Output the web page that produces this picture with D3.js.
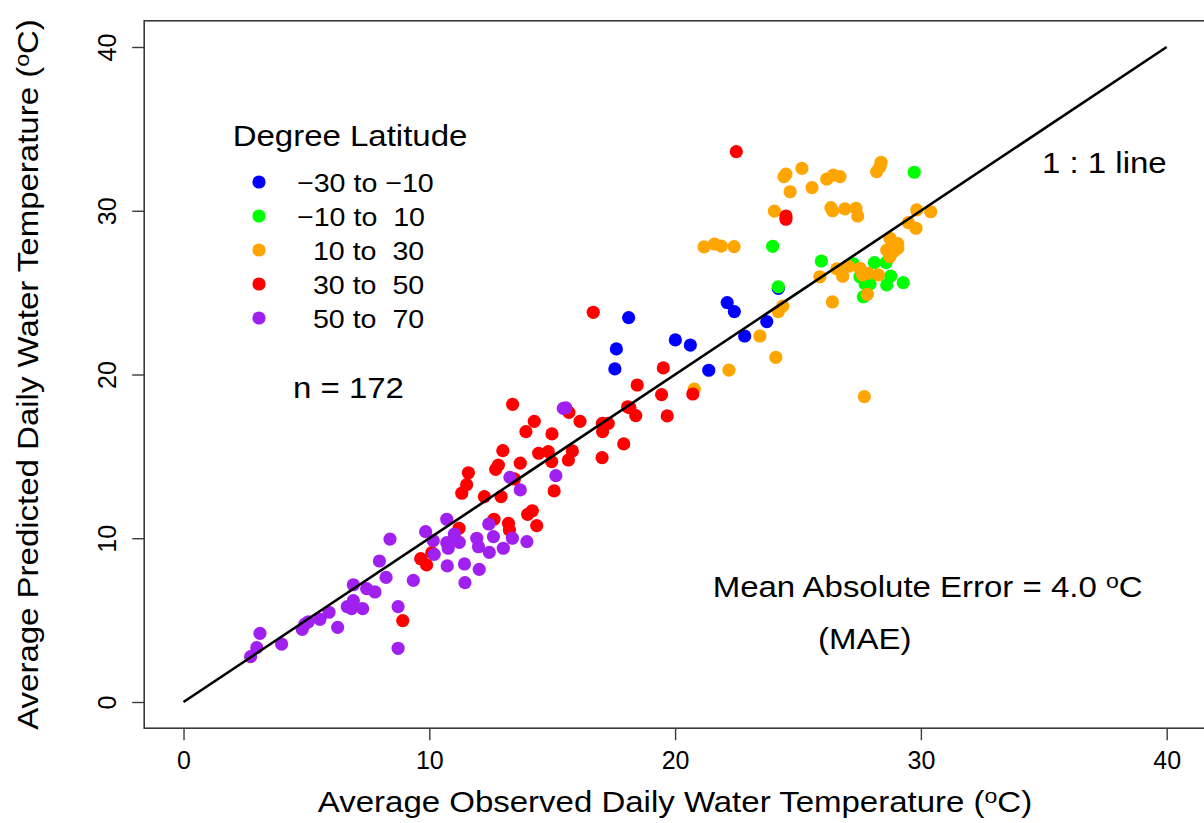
<!DOCTYPE html>
<html>
<head>
<meta charset="utf-8">
<script src="https://cdn.jsdelivr.net/npm/d3@7"></script>
<style>
  html, body { margin: 0; padding: 0; background: #fff; }
  svg { display: block; font-family: "Liberation Sans", Arial, Helvetica, sans-serif; }
</style>
</head>
<body>
<svg id="chart" width="1204" height="823"></svg>
<script>
// ---------- data ----------
const bandLabels = ["\u221230 to \u221210", "\u221210 to  10", "  10 to  30", "  30 to  50", "  50 to  70"];
const legendTitle = "Degree Latitude";
const xTicks = [0, 10, 20, 30, 40];
const yTicks = [0, 10, 20, 30, 40];

// -30 to -10
const obsBand1  = [18.11,17.61,17.55,20.01,20.62,21.37,22.12,22.41,22.83,23.73,24.20];
const predBand1 = [23.47,21.56,20.34,22.11,21.80,20.26,24.39,23.84,22.35,23.23,25.26];
// -10 to 10
const obsBand2  = [24.20,23.97,29.73,25.95,27.25,28.11,28.58,27.52,28.77,28.61,29.28,27.73,27.93,27.66];
const predBand2 = [25.36,27.83,32.35,26.93,26.75,26.83,26.83,25.97,26.01,25.47,25.61,25.53,25.53,24.75];
// 10 to 30
const obsBand3  = [20.78,22.19,23.45,24.20,24.38,24.10,21.18,21.60,21.88,22.40,24.04,24.43,24.51,25.16,24.68,25.57,26.17,26.44,26.71,26.34,26.41,26.91,27.36,27.43,28.20,28.34,28.38,29.83,30.40,29.49,29.80,28.74,29.06,28.95,29.06,28.61,28.88,28.74,25.89,26.58,26.82,27.05,27.52,27.63,27.86,28.27,26.40,27.82,27.70];
const predBand3 = [19.11,20.27,22.35,23.84,24.18,21.05,27.79,27.97,27.84,27.81,29.98,32.08,32.24,32.59,31.16,31.41,31.94,32.18,32.08,30.19,30.00,30.11,30.15,29.68,32.39,32.70,32.96,30.05,29.94,29.27,28.93,28.32,27.99,27.80,27.71,27.60,27.50,27.19,25.97,26.45,26.00,26.61,26.49,26.08,26.18,26.08,24.43,24.90,18.65];
// 30 to 50
const obsBand4  = [11.52,11.32,11.21,9.65,9.89,10.10,8.92,13.39,14.27,13.93,14.99,16.13,15.68,18.46,18.07,18.16,18.40,17.04,17.28,17.05,17.91,17.03,12.99,14.45,14.84,14.98,15.82,15.66,13.70,12.81,12.70,11.59,12.24,12.92,13.46,15.08,14.00,14.19,14.37,12.63,13.22,13.26,16.67,19.52,19.45,20.72,19.68,22.49,24.51,24.51];
const predBand4 = [13.27,12.75,10.61,8.75,8.37,9.12,4.97,18.18,17.14,16.51,16.37,17.14,17.69,19.36,18.03,17.97,17.49,17.02,17.02,16.51,15.76,14.92,15.35,15.19,15.29,14.68,15.33,14.78,14.59,14.47,14.21,14.00,12.54,12.54,13.62,12.89,11.46,11.68,10.77,11.16,10.91,10.50,23.80,20.40,18.77,18.81,17.47,33.61,29.68,29.48];
// 50 to 70
const obsBand5  = [2.73,2.98,3.11,3.99,4.83,4.94,5.08,5.55,5.92,6.27,6.66,6.84,6.91,6.91,7.29,7.45,7.79,7.97,8.24,8.40,8.73,8.73,9.35,9.85,10.16,10.20,10.71,10.71,10.77,11.02,11.22,10.73,11.43,11.45,11.93,12.00,12.03,15.45,15.55,15.15,13.70,13.28,12.42,12.61,12.44,13.01,13.38,13.97];
const predBand5 = [2.77,3.32,4.19,3.54,4.44,4.76,4.90,5.05,5.48,4.56,5.82,5.70,6.19,7.16,5.70,6.92,6.72,8.61,7.61,9.95,5.82,3.28,7.43,10.40,9.85,9.02,11.16,9.73,9.39,10.26,9.75,8.31,8.43,7.29,10.00,9.48,8.10,17.93,17.97,13.82,12.95,13.72,10.87,10.10,9.14,9.39,10.00,9.79];

const nLabel = "n = 172";
const maeLabel = "Mean Absolute Error = 4.0 ";
const oneToOne = [0, 40];

// ---------- styles ----------
const bandColors = ["#0000FF", "#00FF00", "#FFA500", "#FF0000", "#A020F0"];
const SX = 1.1; // horizontal glyph stretch of the reference font

const series = [
  {obs: obsBand1, pred: predBand1},
  {obs: obsBand2, pred: predBand2},
  {obs: obsBand3, pred: predBand3},
  {obs: obsBand4, pred: predBand4},
  {obs: obsBand5, pred: predBand5}
].map((s, i) => ({label: bandLabels[i], color: bandColors[i],
  points: s.obs.map((o, j) => ({x: o, y: s.pred[j]}))}));

const svg = d3.select("#chart");

const x = d3.scaleLinear().domain([-1.6, 41.6]).range([144.2, 1206.0]);
const y = d3.scaleLinear().domain([-1.6, 41.6]).range([728.2, 20.8]);

function label(sel, txt, px, py, size, anchor, rot) {
  const t = sel.append("text")
    .attr("transform", `translate(${px},${py}) rotate(${rot || 0}) scale(${SX},1)`)
    .attr("font-size", size)
    .attr("text-anchor", anchor)
    .attr("fill", "#000")
    .attr("xml:space", "preserve")
    .style("white-space", "pre");
  if (txt !== null) t.text(txt);
  return t;
}

// points
const pts = svg.append("g");
series.forEach(s => {
  pts.selectAll(null).data(s.points).enter().append("circle")
    .attr("cx", d => x(d.x)).attr("cy", d => y(d.y)).attr("r", 6.6)
    .attr("fill", s.color);
});

// 1:1 line
svg.append("line")
  .attr("x1", x(oneToOne[0])).attr("y1", y(oneToOne[0]))
  .attr("x2", x(oneToOne[1])).attr("y2", y(oneToOne[1]))
  .attr("stroke", "#000").attr("stroke-width", 2.6);

// box
svg.append("rect")
  .attr("x", x(-1.6)).attr("y", y(41.6))
  .attr("width", x(41.6) - x(-1.6)).attr("height", y(-1.6) - y(41.6))
  .attr("fill", "none").attr("stroke", "#3a3a3a").attr("stroke-width", 1.6);

// x axis
const gx = svg.append("g").attr("transform", `translate(0,${y(-1.6)})`)
  .call(d3.axisBottom(x).tickValues(xTicks).tickSize(12).tickFormat(d3.format("d")));
gx.select(".domain").remove();
gx.selectAll(".tick line").attr("stroke", "#3a3a3a").attr("stroke-width", 1.4);
gx.selectAll(".tick text").attr("y", 41.3).attr("dy", 0)
  .attr("font-size", 25).attr("font-family", "Liberation Sans, Arial, sans-serif").attr("fill", "#000");

// y axis
const gy = svg.append("g").attr("transform", `translate(${x(-1.6)},0)`)
  .call(d3.axisLeft(y).tickValues(yTicks).tickSize(12).tickFormat(d3.format("d")));
gy.select(".domain").remove();
gy.selectAll(".tick line").attr("stroke", "#3a3a3a").attr("stroke-width", 1.4);
gy.selectAll(".tick text").attr("x", 0).attr("y", 0).attr("dy", 0)
  .attr("transform", "translate(-28.5,0) rotate(-90)")
  .attr("text-anchor", "middle")
  .attr("font-size", 25).attr("font-family", "Liberation Sans, Arial, sans-serif").attr("fill", "#000");

// axis titles
function degTitle(sel, base, px, py, rot) {
  const t = label(sel, null, px, py, 30, "middle", rot);
  t.append("tspan").text(base + "(");
  t.append("tspan").attr("font-size", 21).attr("dy", -9).text("o");
  t.append("tspan").attr("dy", 9).text("C)");
}
degTitle(svg, "Average Observed Daily Water Temperature ", 675, 811.7, 0);
degTitle(svg, "Average Predicted Daily Water Temperature ", 38, 374.5, -90);

// legend
label(svg, legendTitle, 350, 146, 30, "middle");
series.forEach((s, i) => {
  const cy = 182 + i * 34;
  svg.append("circle").attr("cx", 259).attr("cy", cy).attr("r", 6.6).attr("fill", s.color);
  label(svg, s.label, 297, cy + 10, 26, "start");
});

// annotations
label(svg, nLabel, 293, 398, 30, "start");
label(svg, "1 : 1 line", 1042, 173, 30, "start");
const mae = label(svg, null, 712.7, 596.7, 30, "start");
mae.append("tspan").text(maeLabel);
mae.append("tspan").attr("font-size", 21).attr("dy", -9).text("o");
mae.append("tspan").attr("dy", 9).text("C");
label(svg, "(MAE)", 818, 649, 30, "start");
</script>
</body>
</html>
